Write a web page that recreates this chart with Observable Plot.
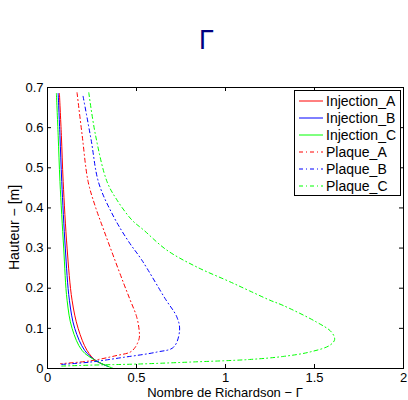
<!DOCTYPE html>
<html><head><meta charset="utf-8">
<script src="https://cdn.jsdelivr.net/npm/d3@7"></script>
<script src="https://cdn.jsdelivr.net/npm/@observablehq/plot@0.6"></script>
<style>body{margin:0;background:#fff}#chart{width:408px;height:400px}</style>
</head><body><div id="chart"></div>
<script>
// [Richardson, hauteur]
const injectionA = [[0.067,0.685],[0.078,0.58],[0.088,0.466],[0.11,0.30],[0.138,0.17],[0.172,0.10],[0.222,0.045],[0.27,0.02],[0.32,0.009]];
const injectionB = [[0.060,0.685],[0.070,0.58],[0.080,0.466],[0.10,0.30],[0.123,0.17],[0.153,0.10],[0.209,0.045],[0.27,0.02],[0.34,0.005]];
const injectionC = [[0.050,0.685],[0.060,0.58],[0.070,0.466],[0.091,0.30],[0.11,0.17],[0.138,0.10],[0.194,0.045],[0.27,0.02],[0.37,0.0]];
const plaqueA = [[0.166,0.687],[0.195,0.58],[0.228,0.466],[0.269,0.403],[0.316,0.345],[0.372,0.278],[0.428,0.212],[0.465,0.17],[0.50,0.13],[0.515,0.095],[0.515,0.075],[0.493,0.053],[0.465,0.041],[0.39,0.0325],[0.24,0.019],[0.073,0.012]];
const plaqueB = [[0.20,0.678],[0.245,0.57],[0.288,0.462],[0.372,0.378],[0.456,0.316],[0.53,0.27],[0.661,0.174],[0.727,0.128],[0.742,0.095],[0.708,0.053],[0.615,0.041],[0.43,0.028],[0.24,0.016],[0.073,0.01]];
const plaqueC = [[0.232,0.687],[0.269,0.583],[0.334,0.466],[0.39,0.42],[0.474,0.37],[0.54,0.345],[0.67,0.295],[0.838,0.253],[1.025,0.216],[1.137,0.193],[1.25,0.17],[1.324,0.157],[1.51,0.116],[1.595,0.091],[1.613,0.072],[1.585,0.0575],[1.473,0.041],[1.324,0.03],[1.137,0.0225],[0.8,0.016],[0.5,0.011],[0.297,0.009],[0.073,0.006]];

const seriesNames = ["Injection_A","Injection_B","Injection_C","Plaque_A","Plaque_B","Plaque_C"];
const seriesData = [injectionA, injectionB, injectionC, plaqueA, plaqueB, plaqueC];
const seriesColors = ["#ff0000","#0000ff","#00ff00","#ff0000","#0000ff","#00ff00"];
const seriesDash = [null,null,null,"4,3,1,3","4,3,1,3","4,3,1,3"];

const xTicks = [0, 0.5, 1, 1.5, 2];
const yTicks = [0, 0.1, 0.2, 0.3, 0.4, 0.5, 0.6, 0.7];
const titleText = "Γ";
const xLabel = "Nombre de Richardson − Γ";
const yLabel = "Hauteur − [m]";

const W = 408, H = 400, mt = 87, mb = 32, ml = 47, mr = 5, tk = 4;
const fh = H - mt - mb, fw = W - ml - mr;

const marks = [];
seriesData.forEach((pts, i) => {
  marks.push(Plot.line(pts, {x: d => d[0], y: d => d[1], stroke: seriesColors[i], strokeWidth: 1,
    strokeDasharray: seriesDash[i] || undefined, curve: "catmull-rom"}));
});
marks.push(
  Plot.ruleX(xTicks, {x: d => d, insetTop: fh - tk, stroke: "black"}),
  Plot.ruleX(xTicks, {x: d => d, insetBottom: fh - tk, stroke: "black"}),
  Plot.ruleY(yTicks, {y: d => d, insetRight: fw - tk, stroke: "black"}),
  Plot.ruleY(yTicks, {y: d => d, insetLeft: fw - tk, stroke: "black"}),
  Plot.axisX(xTicks, {tickSize: 0, tickPadding: 4, tickFormat: d => String(d), label: null, fontSize: 13}),
  Plot.axisY(yTicks, {tickSize: 0, tickPadding: 4, tickFormat: d => String(d), label: null, fontSize: 13}),
  Plot.frame({stroke: "black", strokeWidth: 1})
);

const plot = Plot.plot({
  width: W, height: H, marginTop: mt, marginBottom: mb, marginLeft: ml, marginRight: mr,
  x: {domain: [0, 2]}, y: {domain: [0, 0.7]},
  style: {fontFamily: "'Liberation Sans', Arial, sans-serif", fontSize: "13px", color: "black", background: "white"},
  marks
});
document.getElementById("chart").appendChild(plot);

const svg = d3.select(plot);
const ff = "'Liberation Sans', Arial, sans-serif";
svg.append("text").attr("x", 206.5).attr("y", 49).attr("text-anchor", "middle")
  .attr("font-size", 27).attr("fill", "#000080").attr("font-family", ff).text(titleText);
svg.append("text").attr("x", ml + fw / 2).attr("y", 397).attr("text-anchor", "middle")
  .attr("font-size", 13).attr("fill", "black").attr("font-family", ff).text(xLabel);
svg.append("text").attr("transform", `translate(19,${mt + fh / 2}) rotate(-90)`).attr("text-anchor", "middle")
  .attr("font-size", 14).attr("fill", "black").attr("font-family", ff).text(yLabel);

// legend
const lg = svg.append("g");
lg.append("rect").attr("x", 294.5).attr("y", 90.5).attr("width", 106).attr("height", 105)
  .attr("fill", "white").attr("stroke", "black");
seriesNames.forEach((n, i) => {
  const y = 101 + i * 17;
  lg.append("line").attr("x1", 299).attr("x2", 323).attr("y1", y).attr("y2", y)
    .attr("stroke", seriesColors[i]).attr("stroke-dasharray", seriesDash[i]);
  lg.append("text").attr("x", 326).attr("y", y).attr("dy", "0.35em").attr("font-size", 14)
    .attr("text-anchor", "start").attr("font-family", ff).attr("fill", "black").text(n);
});
</script>
</body></html>
